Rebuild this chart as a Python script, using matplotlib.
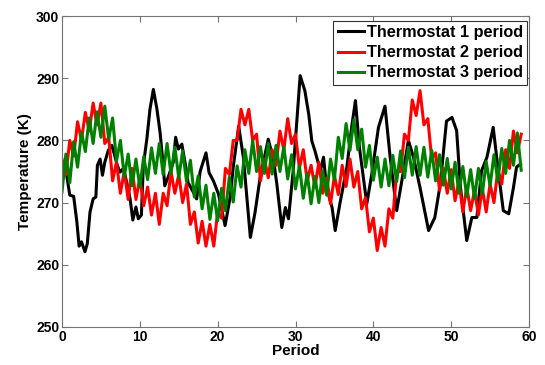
import numpy as np
import matplotlib
matplotlib.use("Agg")
import matplotlib.pyplot as plt

plt.rcParams['font.family'] = ['Liberation Sans', 'DejaVu Sans']
plt.rcParams['font.weight'] = 'bold'

# Thermostat 1 (black), irregular sample points
t1_x = [0.0, 0.4, 1.0, 1.5, 1.9, 2.2, 2.5, 2.95, 3.25, 3.6, 4.0, 4.35, 4.55, 4.9, 5.2,
        5.5, 5.95, 6.4, 6.7, 7.1, 7.45, 7.9, 8.3, 8.75, 9.1, 9.5, 9.8, 10.2, 10.45,
        10.9, 11.3, 11.74, 12.2, 12.6, 13.0, 13.2, 13.7, 14.3, 14.6, 14.95, 15.4,
        15.8, 16.2, 16.9, 17.3, 17.75, 18.5, 18.9, 19.45, 20.1, 20.95, 21.6, 22.0,
        22.7, 23.3, 24.2, 24.8, 25.45, 26.5, 27.2, 27.6, 28.24, 28.7, 29.1, 29.7,
        30.6, 31.2, 31.7, 32.1, 32.5, 33.2, 33.6, 34.0, 34.7, 35.1, 35.7, 36.6,
        37.2, 37.7, 38.2, 39.16, 39.8, 40.66, 41.5, 42.16, 43.0, 43.66, 44.5,
        45.16, 46.0, 47.1, 47.9, 48.6, 49.4, 50.1, 50.7, 51.2, 52.0, 52.66, 53.3,
        53.9, 54.6, 55.4, 56.1, 56.7, 57.4, 58.0, 58.4, 58.9]
t1_y = [275, 276, 271.2, 271, 267, 263, 263.7, 262.1, 263.4, 268.5, 270.6, 270.9, 276,
        277, 274.4, 276.5, 278.4, 279.2, 277.9, 276, 274.9, 275.5, 273.3, 270.6,
        267.2, 269.3, 267.4, 268, 276, 280.2, 285, 288.2, 285, 281.3, 276, 272.7,
        274.3, 276.5, 280.5, 278.6, 279.4, 276.5, 273.2, 271.6, 270.6, 275, 278,
        274.8, 273.5, 271.4, 266.3, 270.8, 275.7, 282.3, 277.3, 264.4, 268.4, 274,
        280.2, 276.7, 273, 266, 269.2, 267.4, 275.1, 290.4, 288, 284.2, 279.9,
        278.3, 275.1, 277.3, 272.4, 269.2, 265.5, 269.8, 275.7, 282, 286.4, 279,
        269.8, 274.6, 282.1, 285.5, 277.3, 268.7, 273.5, 280, 277.3, 272.4, 265.5,
        267.6, 273, 283.1, 283.7, 281.6, 272.4, 263.9, 267.6, 267.6, 275.1, 277.3,
        282.1, 274.6, 268.7, 268.2, 272.4, 275.7, 276.2]

# Thermostats 2 and 3, read every half period
period = np.arange(0, 59.01, 0.5)
t2_y = [277, 274.5, 280, 277.5, 283, 280, 284.5, 281.5, 286, 282.5,
        286, 279.5, 280.5, 273.5, 276.5, 271.5, 275, 270.5, 275.5, 270.5,
        274, 269.5, 272.5, 268, 271.5, 266.5, 271.5, 269.5, 275, 271.5,
        274.5, 270, 273, 266.5, 268.5, 263.5, 267, 263, 266.5, 263,
        268.5, 267.5, 275.5, 274.5, 280, 280, 285, 282.5, 285, 280,
        281, 273.5, 277, 274, 278.5, 276, 281.5, 278.5, 283.5, 279.5,
        281, 275.5, 278.5, 273.5, 276, 272.5, 276.5, 271.5, 274, 269.8,
        274.3, 271.3, 276, 272.6, 277, 272.5, 275, 269, 270.8, 265.3,
        267.5, 262.3, 266, 263, 269, 267.5, 275, 275, 281, 280,
        286.5, 284, 288, 282.5, 283.5, 277, 278, 272, 275.5, 271.5,
        275.3, 270.3, 273.5, 268.5, 272.5, 268.7, 272, 268, 272.3, 268.5,
        273, 270, 275.3, 273, 278.5, 275.5, 281.5, 278, 281]
t3_y = [271.7, 277.8, 273.2, 279.8, 275.7, 281.3, 278.2, 283.6, 279.5, 284.6,
        280.5, 285.5, 280.2, 283.6, 276.7, 280.0, 274.2, 277.8, 272.7, 277.0,
        272.5, 277.4, 273.7, 278.8, 274.7, 279.5, 274.5, 279.5, 274.7, 278.9,
        274.0, 278.3, 273.4, 276.8, 270.9, 274.3, 269.0, 272.8, 267.3, 271.5,
        267.1, 272.3, 268.7, 274.1, 270.1, 275.9, 272.5, 278.5, 274.7, 280.0,
        275.0, 279.0, 274.7, 279.5, 274.6, 279.2, 275.0, 279.0, 273.8, 277.7,
        272.2, 275.9, 270.7, 274.7, 269.8, 274.2, 270.0, 275.1, 271.2, 277.0,
        273.7, 280.5, 277.1, 282.7, 278.4, 283.3, 278.5, 281.8, 275.7, 279.2,
        273.6, 277.3, 272.5, 277.0, 272.7, 277.6, 273.4, 278.3, 274.0, 278.9,
        274.4, 279.0, 274.4, 278.9, 274.1, 278.4, 273.5, 277.7, 272.8, 277.1,
        272.2, 276.5, 271.5, 275.8, 271.0, 275.3, 270.7, 275.5, 271.4, 276.6,
        272.7, 277.7, 273.5, 278.7, 274.7, 280.0, 276.0, 281.2, 275.2]

labels = ['Thermostat 1 period', 'Thermostat 2 period', 'Thermostat 3 period']

fig = plt.figure(figsize=(5.45, 3.65), dpi=100)
ax = fig.add_axes([62 / 545, 38 / 365, 467 / 545, 311 / 365])
ax.plot(t1_x, t1_y, color='black', lw=2.2, label=labels[0])
ax.plot(period, t2_y, color='red', lw=2.2, label=labels[1])
ax.plot(period, t3_y, color=(0, 0.5, 0), lw=2.2, label=labels[2])

ax.set_xlim(0, 60)
ax.set_ylim(250, 300)
ax.set_xticks(range(0, 61, 10))
ax.set_yticks(range(250, 301, 10))
ax.tick_params(direction='in', length=4, top=True, right=True, labelsize=10,
               color='0.45', pad=2)
for s in ax.spines.values():
    s.set_color('0.45')
ax.set_xlabel('Period', fontsize=11, fontweight='bold', labelpad=0)
ax.set_ylabel('Temperature (K)', fontsize=11, fontweight='bold', labelpad=3)

leg = ax.legend(loc='upper right', bbox_to_anchor=(0.9957, 0.984), fontsize=11.7,
                fancybox=False, framealpha=1, edgecolor='0.2', borderaxespad=0,
                borderpad=0.25, labelspacing=0.32, handlelength=1.6,
                handletextpad=0.2)
leg.get_frame().set_linewidth(0.8)

fig.savefig('out.png', dpi=100)
